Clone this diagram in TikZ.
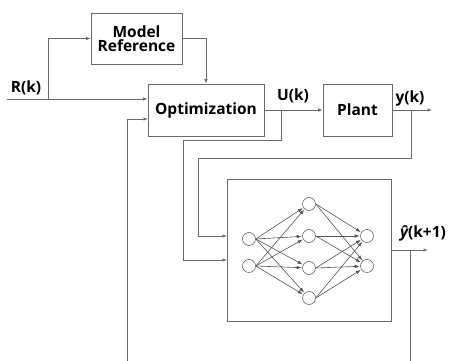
\documentclass[tikz,border=0pt]{standalone}
\usepackage{fontspec}
\setmainfont{Open Sans}
\usetikzlibrary{arrows.meta}
\definecolor{linegray}{RGB}{105,105,105}
\begin{document}
\begin{tikzpicture}[x=1pt,y=-1pt,
  box/.style={draw=linegray, line width=0.8pt, inner sep=0pt, align=center,
    font=\bfseries\fontsize{15.5}{17}\selectfont},
  lbl/.style={inner sep=0pt, font=\bfseries\fontsize{15.5}{17}\selectfont},
  wire/.style={draw=linegray, line width=0.8pt},
  arr/.style={wire, -{Latex[length=4.5pt,width=3.5pt]}},
  narr/.style={draw=linegray!80!black, line width=0.6pt, -{Latex[length=5pt,width=3.5pt]}, shorten >=0.5pt},
  neuron/.style={circle, draw=linegray, line width=0.6pt, minimum size=13pt, inner sep=0pt, fill=white}]
\useasboundingbox (0,0) rectangle (450,361);
% blocks
\node[box, minimum width=91pt, minimum height=51pt] (mr) at (136.5,38.5) {Model\\[-3pt]Reference};
\node[box, minimum width=116pt, minimum height=52pt] (opt) at (206,110) {Optimization};
\node[box, minimum width=69pt, minimum height=52pt] (plant) at (357.5,110) {Plant};
\node[draw=linegray, line width=0.8pt, minimum width=164pt, minimum height=142pt, inner sep=0pt] (nn) at (309,250) {};
% labels
\node[lbl] (rlab) at (26,88) {R(k)};
\node[lbl] (ulab) at (293,96) {U(k)};
\node[lbl] (ylab) at (410,98) {y(k)};
\node[lbl] (yhlab) at (423,233) {{\itshape ŷ}(k+1)};
% coordinates
\coordinate (rin) at (7,99);
\coordinate (rb) at (48,99);
\coordinate (ub) at (281,110);
\coordinate (u1) at (183,140);
\coordinate (nnin2) at (227,260);
\coordinate (yb) at (411,110);
\coordinate (yout) at (432,110);
\coordinate (y1) at (198,158);
\coordinate (nnin1) at (227,236);
\coordinate (fb0) at (127,361);
\coordinate (optin3) at (148,119);
\coordinate (yhout) at (428,250);
\coordinate (yhb) at (410,250);
\coordinate (yhend) at (410,361);
% connectors
\draw[arr] (rin) -- (opt.west |- rin);
\draw[arr] (rb) |- (mr.west);
\draw[arr] (mr.east) -| (opt.north);
\draw[arr] (opt.east) -- (plant.west);
\draw[wire] (ub) |- (u1);
\draw[arr] (u1) |- (nnin2);
\draw[arr] (plant.east) -- (yout);
\draw[wire] (yb) |- (y1);
\draw[arr] (y1) |- (nnin1);
\draw[arr] (fb0) |- (optin3);
\draw[arr] (nn.east) -- (yhout);
\draw[wire] (yhb) -- (yhend);
% neurons
\node[neuron] (i1) at (249,239) {};
\node[neuron] (i2) at (249,266) {};
\node[neuron] (h1) at (309,204) {};
\node[neuron] (h2) at (309,236) {};
\node[neuron] (h3) at (309,268) {};
\node[neuron] (h4) at (309,298) {};
\node[neuron] (o1) at (367,236) {};
\node[neuron] (o2) at (367,266) {};
\foreach \a in {i1,i2}{\foreach \b in {h1,h2,h3,h4}{\draw[narr] (\a.east) -- (\b);}}
\foreach \a in {h1,h2,h3,h4}{\foreach \b in {o1,o2}{\draw[narr] (\a.east) -- (\b);}}
\end{tikzpicture}
\end{document}
